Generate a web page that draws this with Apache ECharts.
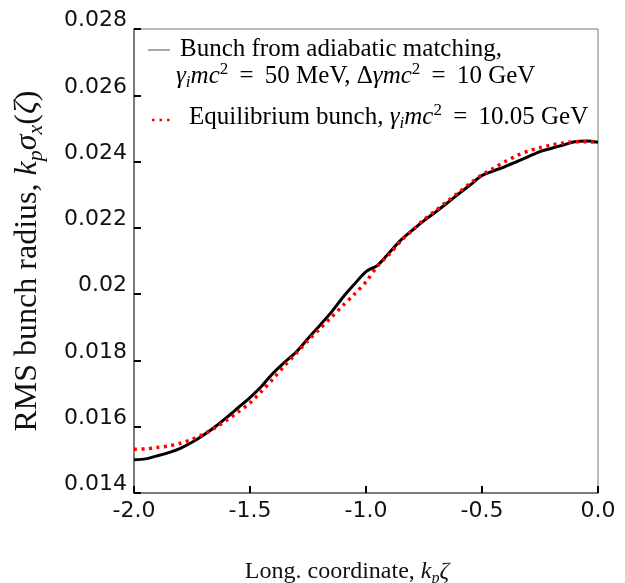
<!DOCTYPE html>
<html>
<head>
<meta charset="utf-8">
<script src="https://cdn.jsdelivr.net/npm/echarts@6/dist/echarts.min.js"></script>
<style>
html,body{margin:0;padding:0;background:#fff;}
#chart{width:625px;height:583px;}
</style>
</head>
<body>
<div id="chart"></div>
<script>
// ---- data ----
var xs = [-2.00,-1.95,-1.90,-1.85,-1.80,-1.75,-1.70,-1.65,-1.60,-1.55,-1.50,-1.45,-1.40,-1.35,-1.30,-1.25,-1.20,-1.15,-1.10,-1.05,-1.00,-0.95,-0.90,-0.85,-0.80,-0.75,-0.70,-0.65,-0.60,-0.55,-0.50,-0.45,-0.40,-0.35,-0.30,-0.25,-0.20,-0.15,-0.10,-0.05,0.00];
var adiabaticY = [0.01500,0.01503,0.01512,0.01522,0.01535,0.01553,0.01575,0.01600,0.01628,0.01658,0.01688,0.01722,0.01762,0.01795,0.01826,0.01866,0.01905,0.01945,0.01990,0.02030,0.02068,0.02087,0.02125,0.02163,0.02193,0.02222,0.02248,0.02275,0.02303,0.02330,0.02358,0.02372,0.02385,0.02400,0.02415,0.02430,0.02440,0.02450,0.02460,0.02462,0.02458];
var equilibriumY = [0.01532,0.01533,0.01537,0.01542,0.01550,0.01562,0.01577,0.01597,0.01620,0.01645,0.01672,0.01707,0.01745,0.01785,0.01822,0.01860,0.01895,0.01930,0.01965,0.02000,0.02037,0.02085,0.02120,0.02160,0.02193,0.02225,0.02252,0.02280,0.02307,0.02335,0.02360,0.02380,0.02400,0.02418,0.02432,0.02442,0.02450,0.02456,0.02460,0.02460,0.02458];
var xTickLabels = ['-2.0','-1.5','-1.0','-0.5','0.0'];
var yTickLabels = ['0.014','0.016','0.018','0.02','0.022','0.024','0.026','0.028'];

function pairs(x, y){ var out=[]; for (var i=0;i<x.length;i++) out.push([x[i], y[i]]); return out; }

var serif = '"Liberation Serif", "DejaVu Serif", serif';
var sans = '"DejaVu Sans", sans-serif';
function mathRich(color, size){
  var sub = Math.round(size * 0.68);
  return {
    it: {fontFamily: serif, fontStyle: 'italic', fontSize: size, color: color},
    sub: {fontFamily: serif, fontStyle: 'italic', fontSize: sub, color: color, verticalAlign: 'bottom'},
    sup: {fontFamily: serif, fontSize: sub, color: color, verticalAlign: 'top'},
    n: {fontFamily: serif, fontSize: size, color: color}
  };
}
var EQ = ' \u2009=\u2009 ';

var chart = echarts.init(document.getElementById('chart'), null, {renderer: 'canvas'});
var option = {
  animation: false,
  backgroundColor: '#ffffff',
  grid: {left: 134, right: 27, top: 29, bottom: 90, containLabel: false, outerBoundsMode: 'none',
         show: true, borderColor: '#777', borderWidth: 1, backgroundColor: 'transparent'},
  xAxis: {
    type: 'value', min: -2, max: 0, interval: 0.5,
    axisLine: {show: true, onZero: false, lineStyle: {color: '#666', width: 1.5}},
    axisTick: {show: true, inside: true, length: 7, lineStyle: {color: '#000', width: 2}},
    splitLine: {show: false},
    axisLabel: {
      fontFamily: sans, fontSize: 22, color: '#111', margin: 7,
      formatter: function(v, i){ return xTickLabels[i]; }
    },
    name: '{n|Long. coordinate, }{it|k}{sub|p}{it|ζ}',
    nameLocation: 'middle', nameGap: 64,
    nameTextStyle: {rich: mathRich('#111', 24), lineHeight: 30, padding: [0, 38, 0, 0]}
  },
  yAxis: {
    type: 'value', min: 0.014, max: 0.028, interval: 0.002,
    axisLine: {show: true, onZero: false, lineStyle: {color: '#666', width: 1.5}},
    axisTick: {show: true, inside: true, length: 7, lineStyle: {color: '#000', width: 2}},
    splitLine: {show: false},
    axisLabel: {
      fontFamily: sans, fontSize: 22, color: '#111', margin: 7,
      verticalAlign: 'bottom', lineHeight: 17,
      formatter: function(v, i){ return yTickLabels[i]; }
    },
    name: '{n|RMS bunch radius, }{it|k}{sub|p}{it|σ}{sub|x}{n|(}{it|ζ}{n|)}',
    nameLocation: 'middle', nameGap: 87, nameRotate: 90,
    nameTextStyle: {rich: mathRich('#111', 32), lineHeight: 38}
  },
  series: [
    {
      name: 'adiabatic', type: 'line', data: pairs(xs, adiabaticY),
      showSymbol: false, smooth: 0.3, z: 2,
      lineStyle: {color: '#000', width: 3}
    },
    {
      name: 'equilibrium', type: 'line', data: pairs(xs, equilibriumY),
      showSymbol: false, smooth: 0.3, z: 3,
      lineStyle: {color: '#ff0000', width: 3.5, type: [3, 4.5], cap: 'butt'}
    }
  ],
  graphic: [
    {type: 'line', shape: {x1: 148, y1: 50, x2: 170, y2: 50}, style: {stroke: '#888', lineWidth: 1.5}},
    {type: 'text', x: 180, y: 49, style: {
      text: '{n|Bunch from adiabatic matching,}', rich: mathRich('#111', 25), verticalAlign: 'middle', lineHeight: 30}},
    {type: 'text', x: 176, y: 76, style: {
      text: '{it|γ}{sub|i}{it|mc}{sup|2}{n|' + EQ + '50 MeV, Δ}{it|γmc}{sup|2}{n|' + EQ + '10 GeV}', rich: mathRich('#111', 25), verticalAlign: 'middle', lineHeight: 30}},
    {type: 'line', shape: {x1: 152, y1: 120, x2: 172, y2: 120}, style: {stroke: '#ff0000', lineWidth: 2.5, lineDash: [2.5, 5]}},
    {type: 'text', x: 189, y: 117, style: {
      text: '{n|Equilibrium bunch, }{it|γ}{sub|i}{it|mc}{sup|2}{n|' + EQ + '10.05 GeV}', rich: mathRich('#ee2b36', 25), verticalAlign: 'middle', lineHeight: 30}}
  ]
};
chart.setOption(option);
</script>
</body>
</html>
